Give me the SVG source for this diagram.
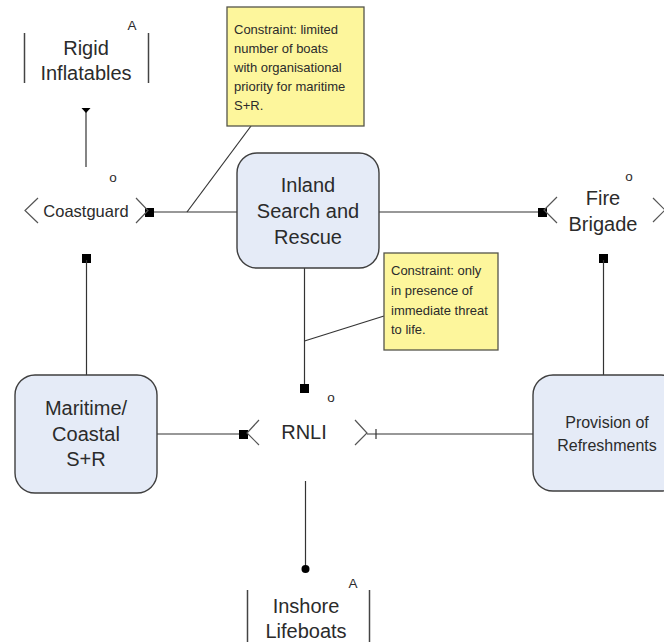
<svg xmlns="http://www.w3.org/2000/svg" width="664" height="642" viewBox="0 0 664 642">
<style>
  .box { fill: #e5ebf7; stroke: #3f3f3f; stroke-width: 1.4; }
  .note { fill: #fdf69c; stroke: #55554a; stroke-width: 1.3; }
  .ln { fill: none; stroke: #333; stroke-width: 1.2; }
  .br { fill: none; stroke: #444; stroke-width: 1.5; }
  .chev { fill: none; stroke: #555; stroke-width: 1.2; }
  .sq { fill: #000; }
  text { font-family: "Liberation Sans", Arial, sans-serif; fill: #2b2b2b; }
  .big { font-size: 20px; text-anchor: middle; }
  .mid { font-size: 16px; text-anchor: middle; }
  .cg { font-size: 16.5px; text-anchor: middle; }
  .nt { font-size: 13px; }
  .sm { font-size: 13.5px; text-anchor: middle; }
</style>
<rect width="664" height="642" fill="#fff"/>

<g id="connectors">
  <!-- Rigid Inflatables to Coastguard -->
  <line class="ln" x1="86" y1="109" x2="86" y2="167"/>
  <polygon points="81.5,108 90.5,108 86,113" fill="#000"/>
  <!-- Coastguard to Inland -->
  <line class="ln" x1="150" y1="212" x2="237" y2="212"/>
  <rect class="sq" x="145" y="208" width="9" height="9"/>
  <!-- Note 1 anchor -->
  <line class="ln" x1="187" y1="212" x2="251" y2="126"/>
  <!-- Inland to Fire Brigade -->
  <line class="ln" x1="379" y1="212" x2="540" y2="212"/>
  <rect class="sq" x="538" y="208" width="9" height="9"/>
  <!-- Coastguard to Maritime -->
  <rect class="sq" x="82" y="254" width="9" height="9"/>
  <line class="ln" x1="86.5" y1="260" x2="86.5" y2="375"/>
  <!-- Fire Brigade to Provision -->
  <rect class="sq" x="599" y="254" width="9" height="9"/>
  <line class="ln" x1="603.5" y1="260" x2="603.5" y2="375"/>
  <!-- Inland to RNLI -->
  <line class="ln" x1="304.5" y1="268" x2="304.5" y2="386"/>
  <rect class="sq" x="300" y="384" width="9" height="9"/>
  <!-- Note 2 anchor -->
  <line class="ln" x1="304.5" y1="341" x2="384" y2="316"/>
  <!-- Maritime to RNLI -->
  <line class="ln" x1="157" y1="434" x2="242" y2="434"/>
  <rect class="sq" x="239" y="430" width="9" height="9"/>
  <!-- RNLI to Provision -->
  <line class="ln" x1="367" y1="434" x2="533" y2="434"/>
  <line class="ln" x1="376" y1="429" x2="376" y2="439"/>
  <!-- RNLI to Inshore Lifeboats -->
  <line class="ln" x1="305.5" y1="481" x2="305.5" y2="568"/>
  <circle cx="305.5" cy="569" r="4" fill="#000"/>
</g>

<g id="note1">
  <rect class="note" x="227" y="7" width="137" height="119"/>
  <text class="nt" x="234" y="34">Constraint: limited</text>
  <text class="nt" x="234" y="53">number of boats</text>
  <text class="nt" x="234" y="72">with organisational</text>
  <text class="nt" x="234" y="91">priority for maritime</text>
  <text class="nt" x="234" y="110">S+R.</text>
</g>

<g id="note2">
  <rect class="note" x="384" y="253" width="114" height="97"/>
  <text class="nt" x="391" y="275">Constraint: only</text>
  <text class="nt" x="391" y="295">in presence of</text>
  <text class="nt" x="391" y="315">immediate threat</text>
  <text class="nt" x="391" y="334">to life.</text>
</g>

<g id="rigid-inflatables">
  <line class="br" x1="24.5" y1="33" x2="24.5" y2="83"/>
  <line class="br" x1="148.5" y1="33" x2="148.5" y2="83"/>
  <text class="big" x="86" y="55">Rigid</text>
  <text class="big" x="86" y="80">Inflatables</text>
  <text class="sm" x="132" y="30">A</text>
</g>

<g id="coastguard">
  <polyline class="chev" points="38,198 25,210.5 38,223"/>
  <polyline class="chev" points="136,198 148,210.5 136,223"/>
  <text class="cg" x="86" y="217">Coastguard</text>
  <text class="sm" x="113" y="182">o</text>
</g>

<g id="inland">
  <rect class="box" x="237" y="153" width="142" height="115" rx="20" ry="20"/>
  <text class="big" x="308" y="192">Inland</text>
  <text class="big" x="308" y="218">Search and</text>
  <text class="big" x="308" y="244">Rescue</text>
</g>

<g id="fire-brigade">
  <polyline class="chev" points="557,197 544,210 557,223"/>
  <polyline class="chev" points="653,198 665,210 653,222"/>
  <text class="big" x="603" y="205">Fire</text>
  <text class="big" x="603" y="231">Brigade</text>
  <text class="sm" x="629" y="181">o</text>
</g>

<g id="maritime">
  <rect class="box" x="15" y="375" width="142" height="118" rx="20" ry="20"/>
  <text class="big" x="86" y="415">Maritime/</text>
  <text class="big" x="86" y="441">Coastal</text>
  <text class="big" x="86" y="466">S+R</text>
</g>

<g id="rnli">
  <polyline class="chev" points="259,420 247,433 259,445"/>
  <polyline class="chev" points="355,420 367,433 355,445"/>
  <text class="big" x="304" y="439">RNLI</text>
  <text class="sm" x="331" y="402">o</text>
</g>

<g id="provision">
  <rect class="box" x="533" y="375" width="148" height="116" rx="20" ry="20"/>
  <text class="mid" x="607" y="428">Provision of</text>
  <text class="mid" x="607" y="451">Refreshments</text>
</g>

<g id="inshore-lifeboats">
  <line class="br" x1="247.5" y1="590" x2="247.5" y2="642"/>
  <line class="br" x1="369.5" y1="590" x2="369.5" y2="642"/>
  <text class="big" x="306" y="613">Inshore</text>
  <text class="big" x="306" y="638">Lifeboats</text>
  <text class="sm" x="353" y="588">A</text>
</g>
</svg>
